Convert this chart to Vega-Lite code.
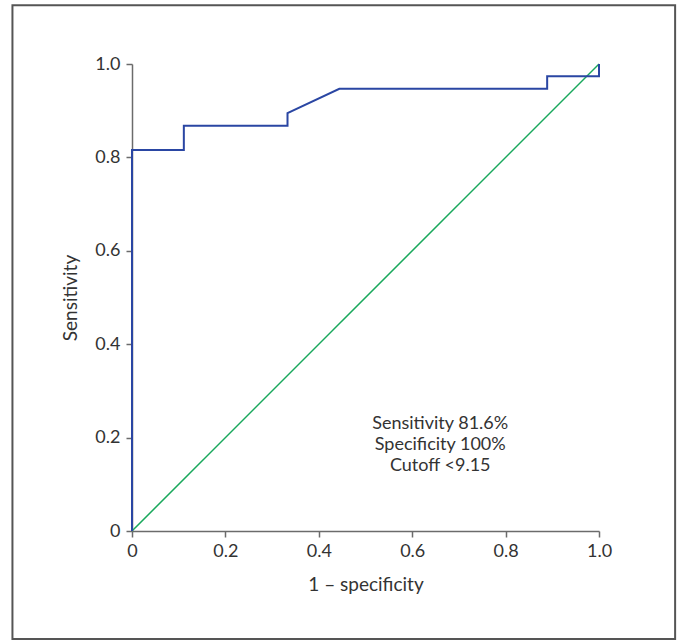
{
  "$schema": "https://vega.github.io/schema/vega-lite/v6.json",
  "width": 467,
  "height": 467,
  "autosize": {"type": "none"},
  "padding": {"left": 132, "top": 64, "right": 79, "bottom": 109},
  "background": "white",
  "config": {
    "view": {"stroke": null},
    "font": "Lato",
    "axis": {
      "grid": false,
      "domainColor": "#6b6b6b",
      "domainWidth": 1.5,
      "tickColor": "#6b6b6b",
      "tickWidth": 1.5,
      "tickSize": 6,
      "labelFlush": false,
      "labelFont": "Lato",
      "labelFontSize": 18,
      "labelColor": "#333333",
      "titleFont": "Lato",
      "titleFontSize": 19,
      "titleFontWeight": "normal",
      "titleColor": "#333333"
    }
  },
  "datasets": {
    "roc": [
      {"fpr": 0, "tpr": 0, "order": 1},
      {"fpr": 0, "tpr": 0.816, "order": 2},
      {"fpr": 0.111, "tpr": 0.816, "order": 3},
      {"fpr": 0.111, "tpr": 0.868, "order": 4},
      {"fpr": 0.333, "tpr": 0.868, "order": 5},
      {"fpr": 0.333, "tpr": 0.895, "order": 6},
      {"fpr": 0.444, "tpr": 0.947, "order": 7},
      {"fpr": 0.889, "tpr": 0.947, "order": 8},
      {"fpr": 0.889, "tpr": 0.974, "order": 9},
      {"fpr": 1, "tpr": 0.974, "order": 10},
      {"fpr": 1, "tpr": 1, "order": 11}
    ],
    "diag": [
      {"fpr": 0, "tpr": 0},
      {"fpr": 1, "tpr": 1}
    ],
    "one": [{}]
  },
  "layer": [
    {
      "data": {"name": "one"},
      "mark": {"type": "rect", "filled": false, "stroke": "#555555", "strokeWidth": 2, "clip": false},
      "encoding": {
        "x": {"datum": -0.256, "type": "quantitative", "scale": {"domain": [0, 1], "nice": false, "zero": false}},
        "x2": {"datum": 1.163},
        "y": {"datum": -0.2314, "type": "quantitative", "scale": {"domain": [0, 1], "nice": false, "zero": false}},
        "y2": {"datum": 1.126}
      }
    },
    {
      "data": {"name": "diag"},
      "mark": {"type": "line", "color": "#19a85c", "strokeWidth": 1.5},
      "encoding": {
        "x": {"field": "fpr", "type": "quantitative"},
        "y": {"field": "tpr", "type": "quantitative"}
      }
    },
    {
      "data": {"name": "roc"},
      "mark": {"type": "line", "color": "#2a46a3", "strokeWidth": 2},
      "encoding": {
        "x": {
          "field": "fpr", "type": "quantitative",
          "scale": {"domain": [0, 1], "nice": false, "zero": false},
          "axis": {
            "title": "1 – specificity",
            "values": [0, 0.2, 0.4, 0.6, 0.8, 1.0],
            "labelExpr": "datum.value == 0 ? '0' : format(datum.value, '.1f')",
            "labelPadding": 5,
            "titlePadding": 15
          }
        },
        "y": {
          "field": "tpr", "type": "quantitative",
          "scale": {"domain": [0, 1], "nice": false, "zero": false},
          "axis": {
            "title": "Sensitivity",
            "values": [0, 0.2, 0.4, 0.6, 0.8, 1.0],
            "labelExpr": "datum.value == 0 ? '0' : format(datum.value, '.1f')",
            "labelPadding": 6,
            "titlePadding": 14
          }
        },
        "order": {"field": "order", "type": "quantitative"}
      }
    },
    {
      "data": {"name": "one"},
      "mark": {
        "type": "text",
        "text": ["Sensitivity 81.6%", "Specificity 100%", "Cutoff <9.15"],
        "font": "Lato",
        "fontSize": 18,
        "lineHeight": 21,
        "align": "center",
        "baseline": "middle",
        "color": "#333333"
      },
      "encoding": {
        "x": {"datum": 0.66, "type": "quantitative"},
        "y": {"datum": 0.229, "type": "quantitative"}
      }
    }
  ]
}
